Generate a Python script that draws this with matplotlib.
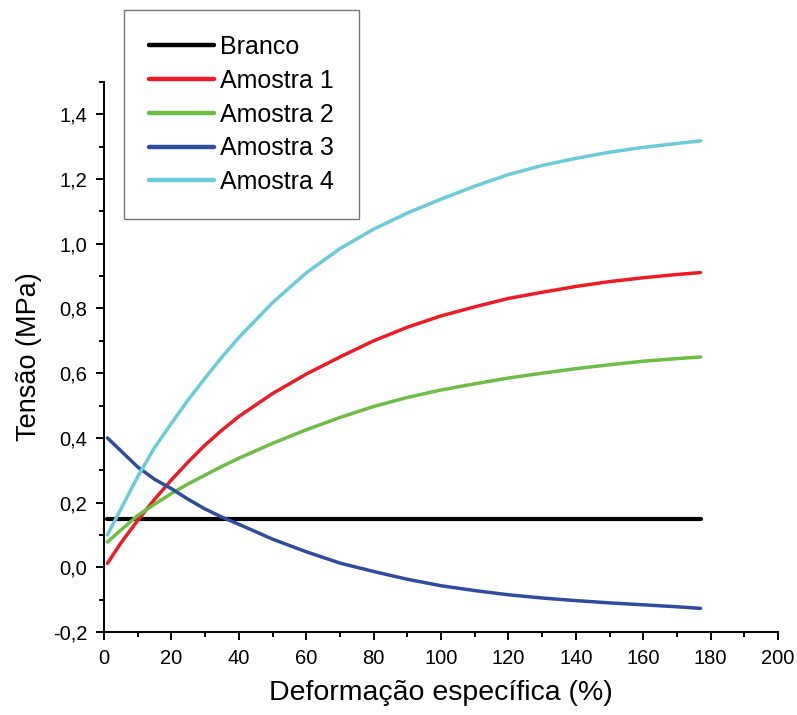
import matplotlib
matplotlib.use('Agg')
import matplotlib.pyplot as plt
from matplotlib.ticker import MultipleLocator, FuncFormatter

plt.rcParams['font.family'] = ['Liberation Sans', 'DejaVu Sans']

# valores
deformacao = [1, 5, 10, 15, 20, 25, 30, 35, 40, 50, 60, 70, 80, 90, 100, 110, 120, 130, 140, 150, 160, 170, 177]
branco = [0.15] * len(deformacao)
amostra1 = [0.012, 0.075, 0.145, 0.21, 0.27, 0.326, 0.378, 0.424, 0.466, 0.537, 0.597, 0.65, 0.70, 0.742, 0.777, 0.805, 0.831, 0.85, 0.868, 0.883, 0.895, 0.905, 0.911]
amostra2 = [0.078, 0.115, 0.16, 0.195, 0.228, 0.258, 0.285, 0.312, 0.337, 0.383, 0.425, 0.463, 0.497, 0.525, 0.548, 0.567, 0.585, 0.60, 0.614, 0.626, 0.637, 0.645, 0.65]
amostra3 = [0.40, 0.36, 0.31, 0.272, 0.243, 0.21, 0.18, 0.155, 0.133, 0.087, 0.048, 0.013, -0.013, -0.037, -0.057, -0.072, -0.085, -0.095, -0.103, -0.110, -0.116, -0.122, -0.127]
amostra4 = [0.10, 0.18, 0.28, 0.37, 0.445, 0.518, 0.585, 0.65, 0.71, 0.818, 0.91, 0.985, 1.045, 1.095, 1.138, 1.178, 1.214, 1.242, 1.264, 1.283, 1.298, 1.31, 1.318]

nomes = ['Branco', 'Amostra 1', 'Amostra 2', 'Amostra 3', 'Amostra 4']
cores = ['#000000', '#ED1C24', '#6CBE45', '#2F4DA0', '#6ACBDB']

fig = plt.figure(figsize=(7.97, 7.15), dpi=100)
ax = fig.add_axes([0.1305, 0.1161, 0.8457, 0.7692])

series = [branco, amostra1, amostra2, amostra3, amostra4]
for ys, nome, cor in zip(series, nomes, cores):
    lw = 3.0 if nome == 'Branco' else 2.5
    ax.plot(deformacao, ys, color=cor, lw=lw, label=nome, solid_capstyle='round')

ax.set_xlim(0, 200)
ax.set_ylim(-0.2, 1.5)
ax.spines['top'].set_visible(False)
ax.spines['right'].set_visible(False)
ax.spines['left'].set_linewidth(1.4)
ax.spines['bottom'].set_linewidth(1.4)

ax.xaxis.set_major_locator(MultipleLocator(20))
ax.xaxis.set_minor_locator(MultipleLocator(10))
ax.yaxis.set_major_locator(MultipleLocator(0.2))
ax.yaxis.set_minor_locator(MultipleLocator(0.1))
ax.yaxis.set_major_formatter(FuncFormatter(lambda v, p: ('%.1f' % v).replace('.', ',').replace('-0,0', '0,0')))
ax.tick_params(which='major', direction='out', length=6, width=1.4, labelsize=14.5, pad=6)
ax.tick_params(which='minor', direction='out', length=3.5, width=1.4)

ax.set_xlabel('Deformação específica (%)', fontsize=20.5, labelpad=9)
ax.set_ylabel('Tensão (MPa)', fontsize=19.5, labelpad=8)

leg = ax.legend(loc='upper left', bbox_to_anchor=(124 / 797, 1 - 10 / 715),
                bbox_transform=fig.transFigure, fontsize=18, frameon=True,
                fancybox=False, handlelength=2.6, handletextpad=0.25,
                labelspacing=0.39, borderpad=1.0, borderaxespad=0)
leg.get_frame().set_edgecolor('#555555')
leg.get_frame().set_linewidth(1.0)
for l in leg.get_lines():
    l.set_linewidth(3.2)

fig.savefig('out.png', dpi=100)
